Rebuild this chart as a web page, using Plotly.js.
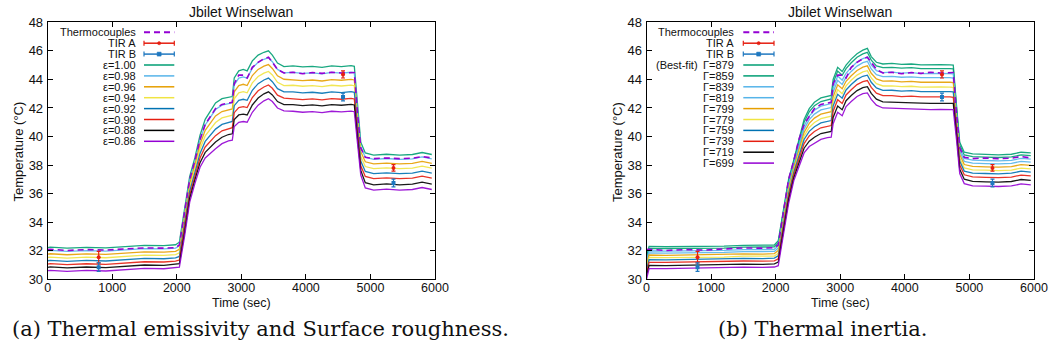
<!DOCTYPE html>
<html>
<head>
<meta charset="utf-8">
<script src="https://cdn.plot.ly/plotly-3.0.1.min.js"></script>
<style>
html,body{margin:0;padding:0;background:#fff;}
#chart{width:1055px;height:352px;}
</style>
</head>
<body>
<div id="chart"></div>
<script>
// ---------- DATA ----------
const chartTitle = 'Jbilet Winselwan';
const xTitle = 'Time (sec)';
const yTitle = 'Temperature (°C)';
const captionA = '(a) Thermal emissivity and Surface roughness.';
const captionB = '(b) Thermal inertia.';
const xTicks = [0, 1000, 2000, 3000, 4000, 5000, 6000];
const yTicks = [30, 32, 34, 36, 38, 40, 42, 44, 46, 48];

const time = [0, 40, 300, 600, 900, 1200, 1500, 1800, 1980,
  2040, 2120, 2200, 2280, 2360, 2440, 2520, 2600, 2700, 2800, 2860,
  2890, 2960, 3030, 3090, 3170, 3260, 3350, 3420, 3480, 3560, 3660,
  3800, 3950, 4100, 4250, 4400, 4550, 4700, 4750,
  4800, 4850,
  4920, 5050, 5250, 5450, 5650, 5800, 5950];

const thermocouples = [32.08, 32.10, 32.02, 32.08, 32.05, 32.12, 32.20, 32.18, 32.22,
  32.4, 34.6, 37.0, 38.3, 39.8, 40.85, 41.45, 41.95, 42.25, 42.35, 42.4,
  43.7, 44.3, 44.3, 44.1, 44.85, 45.2, 45.45, 45.55, 45.2, 44.7, 44.45,
  44.5, 44.4, 44.48, 44.42, 44.5, 44.45, 44.5, 44.48,
  41.6, 39.2,
  38.55, 38.45, 38.5, 38.45, 38.48, 38.6, 38.5];

const tirTime = [790, 4575, 5357];
const tirA = [31.55, 44.35, 37.8];
const tirAErr = [0.4, 0.25, 0.23];
const tirB = [30.85, 42.77, 36.75];
const tirBErr = [0.3, 0.27, 0.27];

// (a) emissivity series
const epsLabels = ['ε=1.00', 'ε=0.98', 'ε=0.96', 'ε=0.94', 'ε=0.92', 'ε=0.90', 'ε=0.88', 'ε=0.86'];
const eps100 = [32.22, 32.25, 32.18, 32.24, 32.20, 32.28, 32.38, 32.36, 32.42,
  32.6, 34.8, 37.2, 38.5, 40.1, 41.2, 41.8, 42.35, 42.65, 42.75, 42.8,
  44.1, 44.6, 44.7, 44.6, 45.3, 45.7, 45.9, 46.0, 45.7, 45.15, 44.9,
  44.95, 44.88, 44.92, 44.85, 44.95, 44.90, 44.96, 44.92,
  42.0, 39.6,
  38.85, 38.70, 38.76, 38.70, 38.74, 38.88, 38.74];
const eps098 = [31.99, 32.02, 31.95, 32.01, 31.97, 32.05, 32.15, 32.13, 32.19,
  32.35, 34.54, 36.94, 38.24, 39.78, 40.81, 41.38, 41.89, 42.20, 42.31, 42.36,
  43.61, 44.09, 44.18, 44.09, 44.79, 45.2, 45.41, 45.52, 45.24, 44.70, 44.46,
  44.49, 44.42, 44.46, 44.39, 44.49, 44.44, 44.50, 44.46,
  41.64, 39.27,
  38.55, 38.40, 38.46, 38.40, 38.44, 38.58, 38.44];
const eps096 = [31.76, 31.79, 31.72, 31.78, 31.74, 31.82, 31.92, 31.90, 31.96,
  32.10, 34.29, 36.69, 37.99, 39.46, 40.43, 40.96, 41.44, 41.75, 41.88, 41.93,
  43.13, 43.57, 43.66, 43.57, 44.27, 44.7, 44.93, 45.04, 44.77, 44.25, 44.01,
  43.99, 43.92, 43.96, 43.89, 43.99, 43.94, 44.00, 43.96,
  41.29, 38.94,
  38.23, 38.08, 38.14, 38.08, 38.12, 38.26, 38.12];
const eps094 = [31.53, 31.56, 31.49, 31.55, 31.51, 31.59, 31.69, 31.67, 31.73,
  31.85, 34.03, 36.43, 37.73, 39.14, 40.04, 40.54, 40.98, 41.30, 41.44, 41.49,
  42.64, 43.06, 43.14, 43.06, 43.76, 44.2, 44.44, 44.56, 44.31, 43.80, 43.57,
  43.59, 43.52, 43.56, 43.49, 43.59, 43.54, 43.60, 43.56,
  40.93, 38.61,
  37.90, 37.75, 37.81, 37.75, 37.79, 37.93, 37.79];
const eps092 = [31.30, 31.33, 31.26, 31.32, 31.28, 31.36, 31.46, 31.44, 31.50,
  31.60, 33.77, 36.17, 37.47, 38.82, 39.66, 40.11, 40.52, 40.85, 41.01, 41.06,
  42.16, 42.54, 42.61, 42.54, 43.24, 43.7, 43.96, 44.09, 43.84, 43.35, 43.13,
  43.13, 43.06, 43.10, 43.03, 43.13, 43.08, 43.14, 43.10,
  40.57, 38.28,
  37.55, 37.40, 37.46, 37.40, 37.44, 37.58, 37.44];
const eps090 = [31.07, 31.10, 31.03, 31.09, 31.05, 31.13, 31.23, 31.21, 31.27,
  31.35, 33.51, 35.91, 37.21, 38.49, 39.27, 39.69, 40.06, 40.40, 40.57, 40.62,
  41.67, 42.03, 42.09, 42.03, 42.73, 43.2, 43.47, 43.61, 43.38, 42.90, 42.69,
  42.66, 42.59, 42.63, 42.56, 42.66, 42.61, 42.67, 42.63,
  40.21, 37.95,
  37.20, 37.05, 37.11, 37.05, 37.09, 37.23, 37.09];
const eps088 = [30.84, 30.87, 30.80, 30.86, 30.82, 30.90, 31.00, 30.98, 31.04,
  31.10, 33.26, 35.66, 36.96, 38.17, 38.89, 39.27, 39.61, 39.95, 40.14, 40.19,
  41.19, 41.51, 41.57, 41.51, 42.21, 42.7, 42.99, 43.13, 42.91, 42.45, 42.24,
  42.24, 42.17, 42.21, 42.14, 42.24, 42.19, 42.25, 42.21,
  39.86, 37.63,
  36.77, 36.62, 36.68, 36.62, 36.66, 36.80, 36.66];
const eps086 = [30.60, 30.63, 30.56, 30.62, 30.58, 30.66, 30.76, 30.74, 30.80,
  30.85, 33.0, 35.4, 36.7, 37.85, 38.5, 38.85, 39.15, 39.5, 39.7, 39.75,
  40.7, 41.0, 41.05, 41.0, 41.7, 42.2, 42.5, 42.65, 42.45, 42.0, 41.8,
  41.77, 41.70, 41.74, 41.67, 41.77, 41.72, 41.78, 41.74,
  39.5, 37.3,
  36.40, 36.25, 36.31, 36.25, 36.29, 36.43, 36.29];

// (b) thermal inertia series
const gamLabels = ['Γ=879', 'Γ=859', 'Γ=839', 'Γ=819', 'Γ=799', 'Γ=779', 'Γ=759', 'Γ=739', 'Γ=719', 'Γ=699'];
const bestFitLabel = '(Best-fit)';
const gam879 = [31.6, 32.3, 32.28, 32.3, 32.28, 32.32, 32.38, 32.36, 32.4,
  32.7, 34.9, 37.0, 38.35, 39.8, 41.2, 41.95, 42.4, 42.7, 42.82, 42.88,
  44.0, 44.85, 44.55, 45.0, 45.42, 45.8, 46.05, 46.17, 45.6, 45.2, 45.08,
  45.12, 45.05, 45.08, 45.02, 45.0, 45.03, 45.02, 45.0,
  42.2, 39.6,
  38.9, 38.78, 38.75, 38.72, 38.76, 38.9, 38.85];
const gam859 = [31.46, 32.17, 32.15, 32.17, 32.15, 32.19, 32.25, 32.23, 32.27,
  32.55, 34.76, 36.86, 38.23, 39.64, 41.0, 41.73, 42.16, 42.45, 42.57, 42.63,
  43.74, 44.58, 44.29, 44.75, 45.17, 45.55, 45.79, 45.90, 45.35, 44.95, 44.82,
  44.85, 44.79, 44.82, 44.76, 44.74, 44.76, 44.76, 44.74,
  42.0, 39.41,
  38.71, 38.59, 38.56, 38.53, 38.57, 38.71, 38.66];
const gam839 = [31.29, 32.00, 31.98, 32.00, 31.98, 32.02, 32.08, 32.06, 32.10,
  32.36, 34.57, 36.67, 38.07, 39.44, 40.74, 41.43, 41.84, 42.13, 42.25, 42.31,
  43.40, 44.24, 43.95, 44.43, 44.84, 45.22, 45.46, 45.56, 45.02, 44.62, 44.48,
  44.51, 44.44, 44.47, 44.41, 44.39, 44.42, 44.41, 44.39,
  41.73, 39.17,
  38.47, 38.35, 38.32, 38.29, 38.33, 38.47, 38.42];
const gam819 = [31.14, 31.85, 31.84, 31.86, 31.84, 31.88, 31.94, 31.92, 31.95,
  32.19, 34.41, 36.51, 37.93, 39.26, 40.52, 41.18, 41.57, 41.86, 41.98, 42.03,
  43.10, 43.94, 43.65, 44.16, 44.56, 44.93, 45.17, 45.27, 44.73, 44.33, 44.19,
  44.21, 44.15, 44.18, 44.12, 44.10, 44.12, 44.12, 44.10,
  41.50, 38.96,
  38.26, 38.13, 38.10, 38.08, 38.12, 38.26, 38.20];
const gam799 = [30.98, 31.70, 31.68, 31.71, 31.69, 31.73, 31.78, 31.77, 31.80,
  32.02, 34.24, 36.34, 37.78, 39.08, 40.28, 40.92, 41.29, 41.57, 41.69, 41.74,
  42.79, 43.62, 43.34, 43.87, 44.26, 44.63, 44.86, 44.95, 44.43, 44.03, 43.88,
  43.90, 43.83, 43.86, 43.80, 43.78, 43.81, 43.80, 43.78,
  41.26, 38.74,
  38.04, 37.91, 37.88, 37.85, 37.89, 38.03, 37.98];
const gam779 = [30.80, 31.53, 31.52, 31.54, 31.52, 31.56, 31.62, 31.60, 31.63,
  31.83, 34.05, 36.15, 37.63, 38.88, 40.03, 40.63, 40.98, 41.25, 41.37, 41.42,
  42.45, 43.28, 43.00, 43.55, 43.94, 44.30, 44.53, 44.61, 44.10, 43.70, 43.54,
  43.55, 43.49, 43.52, 43.46, 43.44, 43.47, 43.46, 43.44,
  41.0, 38.5,
  37.80, 37.67, 37.64, 37.61, 37.65, 37.79, 37.74];
const gam759 = [30.64, 31.37, 31.36, 31.39, 31.37, 31.41, 31.46, 31.45, 31.48,
  31.65, 33.88, 35.98, 37.48, 38.69, 39.79, 40.36, 40.69, 40.96, 41.08, 41.12,
  42.14, 42.96, 42.69, 43.26, 43.64, 44.00, 44.22, 44.30, 43.80, 43.40, 43.23,
  43.24, 43.18, 43.21, 43.15, 43.13, 43.15, 43.15, 43.13,
  40.76, 38.28,
  37.58, 37.44, 37.41, 37.39, 37.43, 37.57, 37.51];
const gam739 = [30.45, 31.18, 31.18, 31.21, 31.19, 31.23, 31.28, 31.27, 31.29,
  31.44, 33.68, 35.78, 37.31, 38.47, 39.51, 40.04, 40.35, 40.61, 40.73, 40.77,
  41.77, 42.58, 42.32, 42.91, 43.28, 43.64, 43.85, 43.92, 43.44, 43.04, 42.86,
  42.86, 42.80, 42.83, 42.77, 42.75, 42.78, 42.77, 42.75,
  40.47, 38.02,
  37.32, 37.17, 37.14, 37.12, 37.16, 37.30, 37.24];
const gam719 = [30.22, 30.97, 30.96, 30.99, 30.97, 31.01, 31.06, 31.05, 31.08,
  31.20, 33.44, 35.54, 37.10, 38.21, 39.18, 39.67, 39.95, 40.21, 40.33, 40.36,
  41.33, 42.14, 41.88, 42.51, 42.87, 43.22, 43.43, 43.49, 43.02, 42.62, 42.43,
  42.42, 42.37, 42.40, 42.34, 42.32, 42.34, 42.34, 42.32,
  40.14, 37.71,
  37.01, 36.86, 36.83, 36.81, 36.85, 36.99, 36.93];
const gam699 = [30.0, 30.75, 30.75, 30.78, 30.76, 30.8, 30.85, 30.84, 30.86,
  30.95, 33.2, 35.3, 36.9, 37.95, 38.85, 39.3, 39.55, 39.8, 39.92, 39.95,
  40.9, 41.7, 41.45, 42.1, 42.45, 42.8, 43.0, 43.05, 42.6, 42.2, 42.0,
  41.98, 41.93, 41.96, 41.9, 41.88, 41.9, 41.9, 41.88,
  39.8, 37.4,
  36.7, 36.55, 36.52, 36.5, 36.54, 36.68, 36.62];

// ---------- STYLE ----------
const epsSeries = [eps100, eps098, eps096, eps094, eps092, eps090, eps088, eps086];
const epsColors = ['#009e73', '#56b4e9', '#e69f00', '#f0e442', '#0072b2', '#e51e10', '#000000', '#9400d3'];
const gamSeries = [gam879, gam859, gam839, gam819, gam799, gam779, gam759, gam739, gam719, gam699];
const gamColors = ['#009e73', '#009e73', '#56b4e9', '#56b4e9', '#e69f00', '#f0e442', '#0072b2', '#e51e10', '#000000', '#9400d3'];
const thermoColor = '#9400d3';
const tirAColor = '#e51e10';
const tirBColor = '#1f78c0';

const W = 1055, H = 352;
const px = v => v / W;
const py = v => 1 - v / H;
const SANS = 'Liberation Sans, Arial, Helvetica, sans-serif';

const traces = [];
function addPanel(series, colors, xa, ya) {
  series.forEach((arr, i) => {
    traces.push({x: time, y: arr, xaxis: xa, yaxis: ya, mode: 'lines',
      line: {color: colors[i], width: 1.3}, opacity: 0.9, hoverinfo: 'skip'});
  });
  traces.push({x: time, y: thermocouples, xaxis: xa, yaxis: ya, mode: 'lines',
    line: {color: thermoColor, width: 1.6, dash: '6px,4px'}, hoverinfo: 'skip'});
  traces.push({x: tirTime, y: tirA, xaxis: xa, yaxis: ya, mode: 'markers',
    marker: {color: tirAColor, size: 4, symbol: 'circle'},
    error_y: {type: 'data', array: tirAErr, visible: true, color: tirAColor, thickness: 1.2, width: 2}});
  traces.push({x: tirTime, y: tirB, xaxis: xa, yaxis: ya, mode: 'markers',
    marker: {color: tirBColor, size: 4, symbol: 'square'},
    error_y: {type: 'data', array: tirBErr, visible: true, color: tirBColor, thickness: 1.2, width: 2}});
}
addPanel(epsSeries, epsColors, 'x', 'y');
addPanel(gamSeries, gamColors, 'x2', 'y2');

const axisCommon = {
  showline: true, linecolor: '#000', linewidth: 1, mirror: 'ticks',
  ticks: 'inside', ticklen: 5, tickcolor: '#000', tickwidth: 1,
  showgrid: false, zeroline: false, fixedrange: true,
  tickfont: {family: SANS, size: 13, color: '#111'}
};
const xTickFont = {family: SANS, size: 12.5, color: '#111'};
const yDomain = [1 - 279.3 / H, 1 - 22.3 / H];
const layout = {
  width: W, height: H,
  margin: {l: 0, r: 0, t: 0, b: 0},
  paper_bgcolor: '#fff', plot_bgcolor: '#fff',
  showlegend: false,
  xaxis: Object.assign({}, axisCommon, {domain: [px(47.7), px(435)], range: [0, 6000], tickvals: xTicks, anchor: 'y', tickfont: xTickFont, ticklabelstandoff: -3}),
  yaxis: Object.assign({}, axisCommon, {domain: yDomain, range: [30, 48], tickvals: yTicks, anchor: 'x', ticklabelstandoff: 1}),
  xaxis2: Object.assign({}, axisCommon, {domain: [px(646.5), px(1034)], range: [0, 6000], tickvals: xTicks, anchor: 'y2', tickfont: xTickFont, ticklabelstandoff: -3}),
  yaxis2: Object.assign({}, axisCommon, {domain: yDomain, range: [30, 48], tickvals: yTicks, anchor: 'x2', ticklabelstandoff: 1}),
  annotations: [],
  shapes: []
};

function ann(text, x, y, opts) {
  layout.annotations.push(Object.assign({text: text, x: px(x), y: py(y), xref: 'paper', yref: 'paper',
    showarrow: false, xanchor: 'center', yanchor: 'middle',
    font: {family: SANS, size: 13, color: '#111'}}, opts || {}));
}
// titles
ann(chartTitle, 241, 12, {font: {family: SANS, size: 14, color: '#111'}});
ann(chartTitle, 840, 12, {font: {family: SANS, size: 14, color: '#111'}});
ann(xTitle, 241, 302.5, {font: {family: SANS, size: 12.5, color: '#111'}});
ann(xTitle, 840, 302.5, {font: {family: SANS, size: 12.5, color: '#111'}});
ann(yTitle, 17.5, 152, {textangle: -90});
ann(yTitle, 617, 152, {textangle: -90});
ann(captionA, 260, 329, {font: {family: 'DejaVu Serif, serif', size: 21, color: '#111'}});
ann(captionB, 822, 329, {font: {family: 'DejaVu Serif, serif', size: 21, color: '#111'}});

// legends (gnuplot style: text right, sample to the right)
const ROW0 = 32.3, ROWH = 10.9;
const LF = {family: SANS, size: 11, color: '#111'};
function legendPanel(textRight, lx0, lx1, labels, colors, bestFitRow) {
  const rows = [{label: 'Thermocouples', kind: 'dash', color: thermoColor},
                {label: 'TIR A', kind: 'errA', color: tirAColor},
                {label: 'TIR B', kind: 'errB', color: tirBColor}];
  labels.forEach((l, i) => rows.push({label: l, kind: 'line', color: colors[i]}));
  rows.forEach((r, i) => {
    const yy = ROW0 + i * ROWH;
    ann(r.label, textRight, yy, {xanchor: 'right', font: LF});
    const line = {type: 'line', xref: 'paper', yref: 'paper', x0: px(lx0), x1: px(lx1), y0: py(yy), y1: py(yy),
      line: {color: r.color, width: r.kind === 'dash' ? 2 : 1.5}};
    if (r.kind === 'dash') line.line.dash = '6px,4px';
    layout.shapes.push(line);
    if (r.kind === 'errA' || r.kind === 'errB') {
      [lx0, lx1].forEach(xc => layout.shapes.push({type: 'line', xref: 'paper', yref: 'paper',
        x0: px(xc), x1: px(xc), y0: py(yy - 2.5), y1: py(yy + 2.5), line: {color: r.color, width: 1.2}}));
      const xm = (lx0 + lx1) / 2, s = r.kind === 'errB' ? 2 : 1.6;
      layout.shapes.push({type: r.kind === 'errB' ? 'rect' : 'circle', xref: 'paper', yref: 'paper',
        x0: px(xm - s), x1: px(xm + s), y0: py(yy - s), y1: py(yy + s),
        fillcolor: r.color, line: {color: r.color, width: 0.5}});
    }
  });
  if (bestFitRow !== undefined) {
    ann(bestFitLabel, 700, ROW0 + bestFitRow * ROWH, {xanchor: 'right', font: LF});
  }
}
legendPanel(137.7, 144, 174.3, epsLabels, epsColors);
legendPanel(736, 743.3, 774, gamLabels, gamColors, 3);

Plotly.newPlot('chart', traces, layout, {staticPlot: true, displayModeBar: false});
</script>
</body>
</html>
